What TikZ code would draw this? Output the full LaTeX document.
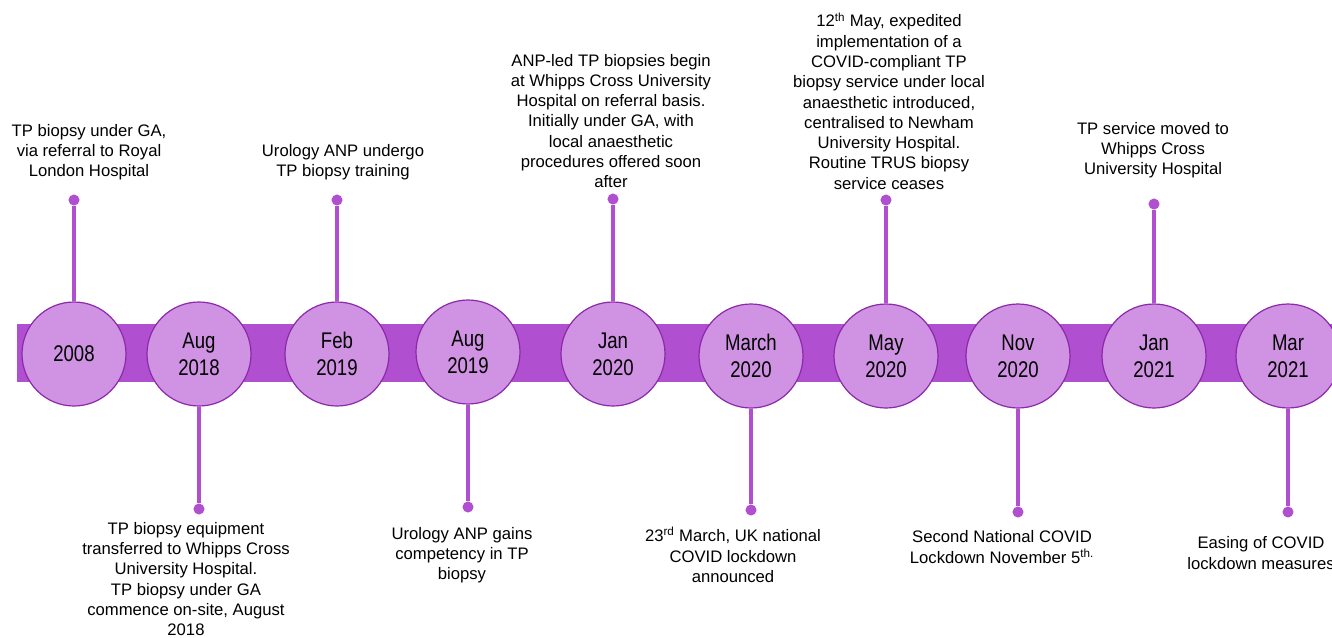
\documentclass[tikz,border=0pt]{standalone}
\usepackage{fontspec}
\setmainfont{Liberation Sans}
\newfontfamily\yearfont[FakeStretch=0.82]{Liberation Sans}
\definecolor{bandpurple}{RGB}{176,80,208}
\definecolor{discpurple}{RGB}{208,146,226}
\definecolor{rimpurple}{RGB}{140,40,170}
\tikzset{
	year/.style={circle, draw=rimpurple, line width=0.9pt, fill=discpurple, minimum size=78pt, inner sep=0pt, align=center, font=\yearfont\fontsize{17}{20}\selectfont},
	pin/.style={circle, fill=bandpurple, minimum size=8.3pt, inner sep=0pt},
	stem/.style={draw=bandpurple, line width=2.8pt},
	event/.style={align=center, inner sep=0pt, font=\fontsize{12.5}{15.2}\selectfont},
}
\begin{document}
\begin{tikzpicture}[x=0.75pt, y=-0.75pt]
			%%%%% START %%%%%
			\useasboundingbox (0, 0) rectangle (1332, 637);
			
			\fill[bandpurple] (17, 324) rectangle (1345, 382);
			
			\node[year] (y1) at (74, 354) {2008};
			\node[year] (y2) at (199, 354) {Aug\\2018};
			\node[year] (y3) at (337, 354) {Feb\\2019};
			\node[year] (y4) at (468, 352) {Aug\\2019};
			\node[year] (y5) at (613, 354) {Jan\\2020};
			\node[year] (y6) at (751, 356) {March\\2020};
			\node[year] (y7) at (886, 356) {May\\2020};
			\node[year] (y8) at (1018, 356) {Nov\\2020};
			\node[year] (y9) at (1154, 356) {Jan\\2021};
			\node[year] (y10) at (1288, 356) {Mar\\2021};
			
			\node[pin] (p1) at (74, 200) {};
			\node[pin] (p2) at (199, 509) {};
			\node[pin] (p3) at (337, 200) {};
			\node[pin] (p4) at (468, 507) {};
			\node[pin] (p5) at (613, 199) {};
			\node[pin] (p6) at (751, 510) {};
			\node[pin] (p7) at (886, 200) {};
			\node[pin] (p8) at (1018, 512) {};
			\node[pin] (p9) at (1154, 204) {};
			\node[pin] (p10) at (1288, 512) {};
			
			\draw[stem] (p1) -- (y1);
			\draw[stem] (p2) -- (y2);
			\draw[stem] (p3) -- (y3);
			\draw[stem] (p4) -- (y4);
			\draw[stem] (p5) -- (y5);
			\draw[stem] (p6) -- (y6);
			\draw[stem] (p7) -- (y7);
			\draw[stem] (p8) -- (y8);
			\draw[stem] (p9) -- (y9);
			\draw[stem] (p10) -- (y10);
			
			\node[event] (t1) at (89, 152) {TP biopsy under GA,\\via referral to Royal\\London Hospital};
			\node[event] (t2) at (186, 579) {TP biopsy equipment\\transferred to Whipps Cross\\University Hospital.\\TP biopsy under GA\\commence on-site, August\\2018};
			\node[event] (t3) at (343, 162) {Urology ANP undergo\\TP biopsy training};
			\node[event] (t4) at (462, 555) {Urology ANP gains\\competency in TP\\biopsy};
			\node[event] (t5) at (611, 121) {ANP-led TP biopsies begin\\at Whipps Cross University\\Hospital on referral basis.\\Initially under GA, with\\local anaesthetic\\procedures offered soon\\after};
			\node[event] (t6) at (733, 555) {23\textsuperscript{rd} March, UK national\\COVID lockdown\\announced};
			\node[event] (t7) at (889, 101) {12\textsuperscript{th} May, expedited\\implementation of a\\COVID-compliant TP\\biopsy service under local\\anaesthetic introduced,\\centralised to Newham\\University Hospital.\\Routine TRUS biopsy\\service ceases};
			\node[event] (t8) at (1002, 547) {Second National COVID\\Lockdown November 5\textsuperscript{th.}};
			\node[event] (t9) at (1153, 150) {TP service moved to\\Whipps Cross\\University Hospital};
			\node[event] (t10) at (1261, 553) {Easing of COVID\\lockdown measures};
			%%%%% END %%%%%
\end{tikzpicture}
\end{document}
